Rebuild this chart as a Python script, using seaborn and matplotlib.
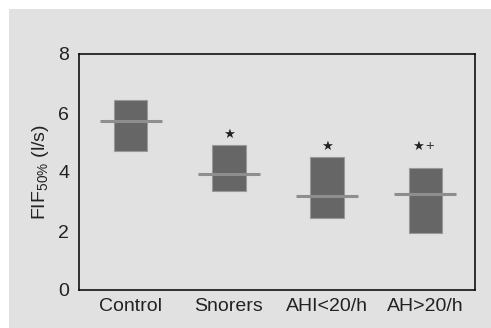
import matplotlib
matplotlib.use("Agg")
import matplotlib.pyplot as plt
import seaborn as sns
import pandas as pd
from matplotlib.patches import Rectangle

groups = ["Control", "Snorers", "AHI<20/h", "AH>20/h"]
low = [4.71, 3.36, 2.44, 1.94]
high = [6.44, 4.92, 4.50, 4.15]
median = [5.73, 3.92, 3.20, 3.24]
star = [False, True, True, True]
plus = [False, False, False, True]
mark_y = [None, 5.29, 4.85, 4.87]

bg = "#e1e1e1"
sns.set_style("white")
plt.rcParams["font.family"] = ["Liberation Sans", "DejaVu Sans"]
plt.rcParams["mathtext.default"] = "regular"

df = pd.DataFrame({"group": groups, "span": [h - l for h, l in zip(high, low)]})

fig = plt.figure(figsize=(4.91, 3.28), dpi=100)
fig.patch.set_facecolor("white")
fig.patches.append(Rectangle((9 / 491, 0), 1, 1 - 9 / 328, transform=fig.transFigure,
                             facecolor=bg, edgecolor="none", zorder=-10))
ax = fig.add_axes([79 / 491, 38 / 328, 396 / 491, 236 / 328])
ax.set_facecolor(bg)

sns.barplot(data=df, x="group", y="span", order=groups, color="#666666",
            saturation=1, width=0.34, edgecolor="#999999", linewidth=0.8, ax=ax)
for p, b in zip(ax.patches, low):
    p.set_y(b)

for i, m in enumerate(median):
    ax.hlines(m, i - 0.315, i + 0.315, color="#8e8e8e", lw=2.2, zorder=5)

for i, y in enumerate(mark_y):
    if star[i]:
        dx = -0.075 if plus[i] else 0
        ax.text(i + dx, y, "\u2605", ha="center", va="center",
                fontsize=9.5, color="#222222", family="DejaVu Sans")
    if plus[i]:
        ax.text(i + 0.045, y + 0.02, "+", ha="center", va="center",
                fontsize=10.5, color="#333333")

ax.set_xlim(-0.525, 3.505)
ax.set_ylim(0, 8)
ax.set_yticks([0, 2, 4, 6, 8])
ax.tick_params(axis="both", length=0, labelsize=14, colors="#222222")
ax.tick_params(axis="y", pad=7)
ax.tick_params(axis="x", pad=6)
ax.set_xlabel("")
ax.set_ylabel("FIF$_{50\\%}$ (l/s)", fontsize=14, color="#222222", labelpad=5)
for s in ax.spines.values():
    s.set_visible(True)
    s.set_color("black")
    s.set_linewidth(1.1)

fig.savefig("out.png", dpi=100, facecolor="white")
